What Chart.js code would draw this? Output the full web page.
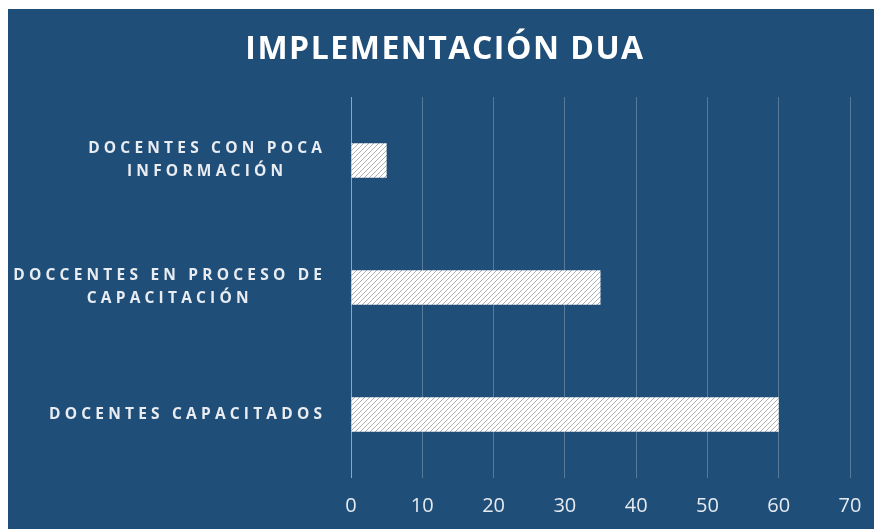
<!DOCTYPE html>
<html>
<head>
<meta charset="utf-8">
<script src="https://cdn.jsdelivr.net/npm/chart.js@4.4.1/dist/chart.umd.min.js"></script>
<style>
  html, body { margin: 0; padding: 0; background: #fff; }
  #wrap { position: absolute; left: 8px; top: 9px; width: 866px; height: 520px; background: #1F4E79; }
</style>
</head>
<body>
<div id="wrap"><canvas id="duaChart"></canvas></div>
<script>
// data
const categories = [
  ['DOCENTES CON POCA', 'INFORMACIÓN'],
  ['DOCCENTES EN PROCESO DE', 'CAPACITACIÓN'],
  ['DOCENTES CAPACITADOS']
];
const values = [5, 35, 60];
const xMin = 0, xMax = 70, xStep = 10;

const FONT = '"Open Sans", "DejaVu Sans", sans-serif';

// white bar with thin grey diagonal lines
function hatchPattern() {
  const c = document.createElement('canvas');
  c.width = 5; c.height = 5;
  const g = c.getContext('2d');
  g.fillStyle = '#ffffff';
  g.fillRect(0, 0, 5, 5);
  g.fillStyle = '#b0b0b0';
  for (let i = 0; i < 5; i++) g.fillRect(i, 4 - i, 1, 1);
  return g.createPattern(c, 'repeat');
}

// letter-spaced text: title gets tracking, category labels drawn here
const spacedLabels = {
  id: 'spacedLabels',
  beforeDraw(chart) {
    // grid (z -1) and title (z 0) are drawn next
    chart.ctx.letterSpacing = '1.5px';
  },
  afterDatasetsDraw(chart) {
    const { ctx, scales: { y } } = chart;
    const spacing = 4.2, right = 314, lh = 23;
    ctx.save();
    ctx.font = 'bold 15.5px ' + FONT;
    ctx.letterSpacing = spacing + 'px';
    ctx.fillStyle = '#e9edf2';
    ctx.textBaseline = 'middle';
    ctx.textAlign = 'left';
    categories.forEach((lines, i) => {
      const cy = y.getPixelForTick(i);
      const ws = lines.map(l => ctx.measureText(l).width - spacing);
      const cx = right - Math.max(...ws) / 2;
      lines.forEach((l, j) => {
        ctx.fillText(l, cx - ws[j] / 2, cy + (j - (lines.length - 1) / 2) * lh);
      });
    });
    ctx.restore();
    ctx.letterSpacing = '0px'; // x tick labels (z 1) come after
  }
};

new Chart(document.getElementById('duaChart'), {
  type: 'bar',
  data: {
    labels: categories,
    datasets: [{
      data: values,
      backgroundColor: hatchPattern(),
      borderWidth: 0,
      barPercentage: 0.27,
      categoryPercentage: 1
    }]
  },
  plugins: [spacedLabels],
  options: {
    indexAxis: 'y',
    responsive: true,
    maintainAspectRatio: false,
    animation: false,
    layout: { padding: { left: 32, right: 24, top: 0, bottom: 0 } },
    plugins: {
      legend: { display: false },
      tooltip: { enabled: false },
      title: {
        display: true,
        text: 'IMPLEMENTACIÓN DUA',
        color: '#ffffff',
        font: { family: FONT, size: 32, weight: 'bold' },
        padding: { top: 22, bottom: 27.6 }
      }
    },
    scales: {
      x: {
        min: xMin,
        max: xMax,
        ticks: { stepSize: xStep, color: '#e6ebf0', font: { family: FONT, size: 20 }, padding: 0, z: 1 },
        grid: {
          color: ctx => ctx.index === 0 ? 'rgba(255,255,255,0.5)' : 'rgba(255,255,255,0.25)',
          drawTicks: true,
          tickLength: 16,
          tickColor: 'rgba(0,0,0,0)'
        },
        border: { display: false },
        afterFit: s => { s.height = 51; }
      },
      y: {
        ticks: { display: false },
        grid: { display: false },
        border: { display: false },
        afterFit: s => { s.width = 311; }
      }
    }
  }
});
</script>
</body>
</html>
